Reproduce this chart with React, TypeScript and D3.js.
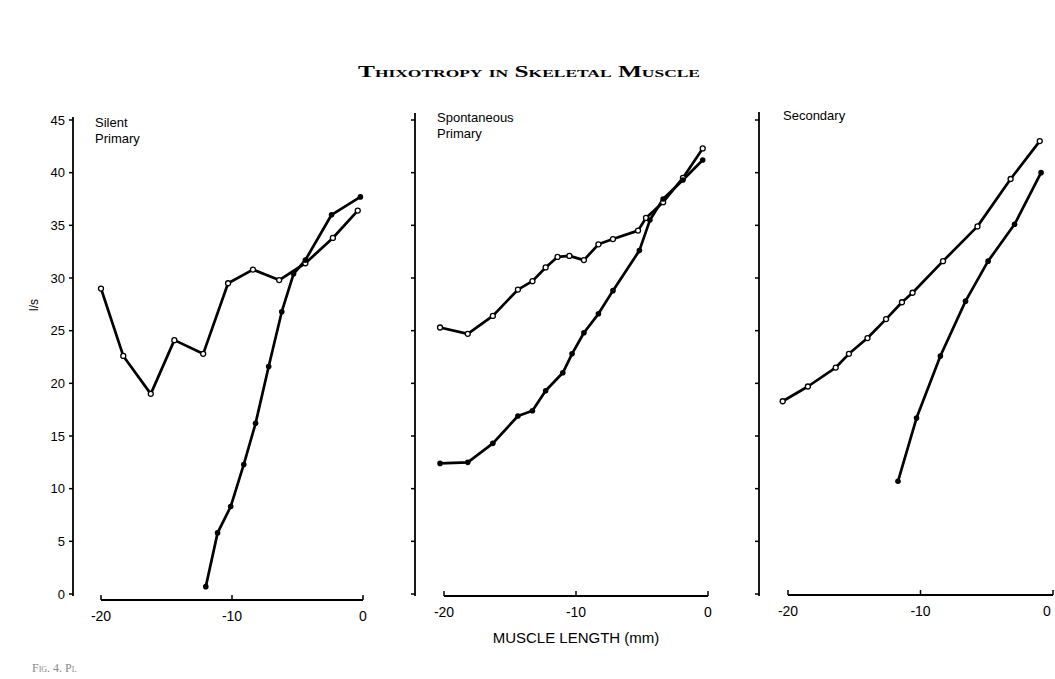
import React from 'react';
import * as d3 from 'd3';

// values (muscle length in mm, impulses/s)
const silentOpenX = [-20, -18.3, -16.2, -14.4, -12.2, -10.3, -8.4, -6.4, -4.4, -2.3, -0.4];
const silentOpenY = [29, 22.6, 19, 24.1, 22.8, 29.5, 30.8, 29.8, 31.4, 33.8, 36.4];
const silentFilledX = [-12, -11.1, -10.1, -9.1, -8.2, -7.2, -6.2, -5.3, -4.4, -2.4, -0.2];
const silentFilledY = [0.7, 5.8, 8.3, 12.3, 16.2, 21.6, 26.8, 30.4, 31.7, 36.0, 37.7];

const spontOpenX = [-20.3, -18.2, -16.3, -14.4, -13.3, -12.3, -11.4, -10.5, -9.4, -8.3, -7.2, -5.3, -4.7, -3.4, -1.9, -0.4];
const spontOpenY = [25.3, 24.7, 26.4, 28.9, 29.7, 31.0, 32.0, 32.1, 31.7, 33.2, 33.7, 34.5, 35.7, 37.2, 39.5, 42.3];
const spontFilledX = [-20.3, -18.2, -16.3, -14.4, -13.3, -12.3, -11.0, -10.3, -9.4, -8.3, -7.2, -5.2, -4.4, -3.4, -1.9, -0.4];
const spontFilledY = [12.4, 12.5, 14.3, 16.9, 17.4, 19.3, 21.0, 22.8, 24.8, 26.6, 28.8, 32.6, 35.5, 37.5, 39.3, 41.2];

const secOpenX = [-20.4, -18.5, -16.4, -15.4, -14.0, -12.6, -11.4, -10.6, -8.3, -5.7, -3.2, -1.0];
const secOpenY = [18.3, 19.7, 21.5, 22.8, 24.3, 26.1, 27.7, 28.6, 31.6, 34.9, 39.4, 43.0];
const secFilledX = [-11.7, -10.3, -8.5, -6.6, -4.9, -2.9, -0.9];
const secFilledY = [10.7, 16.7, 22.6, 27.8, 31.6, 35.1, 40.0];

const yTicks = [0, 5, 10, 15, 20, 25, 30, 35, 40, 45];
const xTicks = [-20, -10, 0];
const panelNames = [['Silent', 'Primary'], ['Spontaneous', 'Primary'], ['Secondary']];

const W = 1055;
const H = 679;
const font = '"Liberation Sans", Arial, sans-serif';

// layout of the three panels
const panels = [
  { x0: 101, x1: 363, axisX: 73, baseY: 600, top: 117, labels: true, open: [silentOpenX, silentOpenY], filled: [silentFilledX, silentFilledY], nameY: 127, nameX: 95 },
  { x0: 444, x1: 708, axisX: 415, baseY: 596, top: 113, labels: false, open: [spontOpenX, spontOpenY], filled: [spontFilledX, spontFilledY], nameY: 122, nameX: 437 },
  { x0: 788, x1: 1053, axisX: 759, baseY: 595, top: 112, labels: false, open: [secOpenX, secOpenY], filled: [secFilledX, secFilledY], nameY: 120, nameX: 783 },
];

const y = d3.scaleLinear().domain([0, 45]).range([594, 120]);

const zip = (xs: number[], ys: number[]) => xs.map((v, i) => [v, ys[i]] as [number, number]);

const Panel = ({ p, idx }: { p: typeof panels[number]; idx: number }) => {
  const x = d3.scaleLinear().domain([-20, 0]).range([p.x0, p.x1]);
  const line = d3.line<[number, number]>().x(d => x(d[0])).y(d => y(d[1]));
  const open = zip(p.open[0], p.open[1]);
  const filled = zip(p.filled[0], p.filled[1]);
  return (
    <g>
      {/* y axis */}
      <line x1={p.axisX} x2={p.axisX} y1={p.top} y2={y(0) + 2} stroke="#000" strokeWidth={1.8} />
      {yTicks.map(t => (
        <g key={t}>
          <line x1={p.axisX - 4} x2={p.axisX} y1={y(t)} y2={y(t)} stroke="#000" strokeWidth={1.5} />
          {p.labels && (
            <text x={p.axisX - 8} y={y(t)} dy="0.35em" textAnchor="end" fontFamily={font} fontSize={13}>{t}</text>
          )}
        </g>
      ))}
      {/* x axis */}
      <line x1={x(-20)} x2={x(0)} y1={p.baseY} y2={p.baseY} stroke="#000" strokeWidth={2} />
      {xTicks.map(t => (
        <g key={t}>
          <line x1={x(t)} x2={x(t)} y1={p.baseY} y2={p.baseY - 5} stroke="#000" strokeWidth={1.5} />
          <text x={Math.min(x(t), W - 8)} y={p.baseY + 21} textAnchor="middle" fontFamily={font} fontSize={14}>{t}</text>
        </g>
      ))}
      {/* panel name */}
      <text fontFamily={font} fontSize={13} x={p.nameX} y={p.nameY}>
        {panelNames[idx].map((s, i) => (
          <tspan key={s} x={p.nameX} dy={i === 0 ? 0 : 16}>{s}</tspan>
        ))}
      </text>
      {/* curves */}
      <path d={line(open) || ''} fill="none" stroke="#000" strokeWidth={2.7} strokeLinejoin="round" />
      <path d={line(filled) || ''} fill="none" stroke="#000" strokeWidth={2.7} strokeLinejoin="round" />
      {open.map((d, i) => (
        <circle key={'o' + i} cx={x(d[0])} cy={y(d[1])} r={2.5} fill="#fff" stroke="#000" strokeWidth={1.3} />
      ))}
      {filled.map((d, i) => (
        <circle key={'f' + i} cx={x(d[0])} cy={y(d[1])} r={2.8} fill="#000" />
      ))}
    </g>
  );
};

export default function App() {
  return (
    <div style={{ position: 'absolute', left: 0, top: 0 }}>
      <svg width={W} height={H} viewBox={`0 0 ${W} ${H}`} style={{ display: 'block', background: '#fff' }}>
        <text x={529} y={77} textAnchor="middle" fontFamily='"Liberation Serif", "Times New Roman", serif'
          fontSize={16} fontWeight="bold" style={{ fontVariant: 'small-caps' }} textLength={342} lengthAdjust="spacingAndGlyphs">
          Thixotropy in Skeletal Muscle
        </text>
        {panels.map((p, i) => <Panel key={i} p={p} idx={i} />)}
        <text x={38} y={305} transform="rotate(-90 38 305)" textAnchor="middle" fontFamily={font} fontSize={12}>l/s</text>
        <text x={576} y={643} textAnchor="middle" fontFamily={font} fontSize={15}>MUSCLE LENGTH (mm)</text>
        <text x={32} y={672} fontFamily='"Liberation Serif", serif' fontSize={12} fill="#888"
          style={{ fontVariant: 'small-caps' }}>Fig. 4. Pl</text>
      </svg>
    </div>
  );
}
